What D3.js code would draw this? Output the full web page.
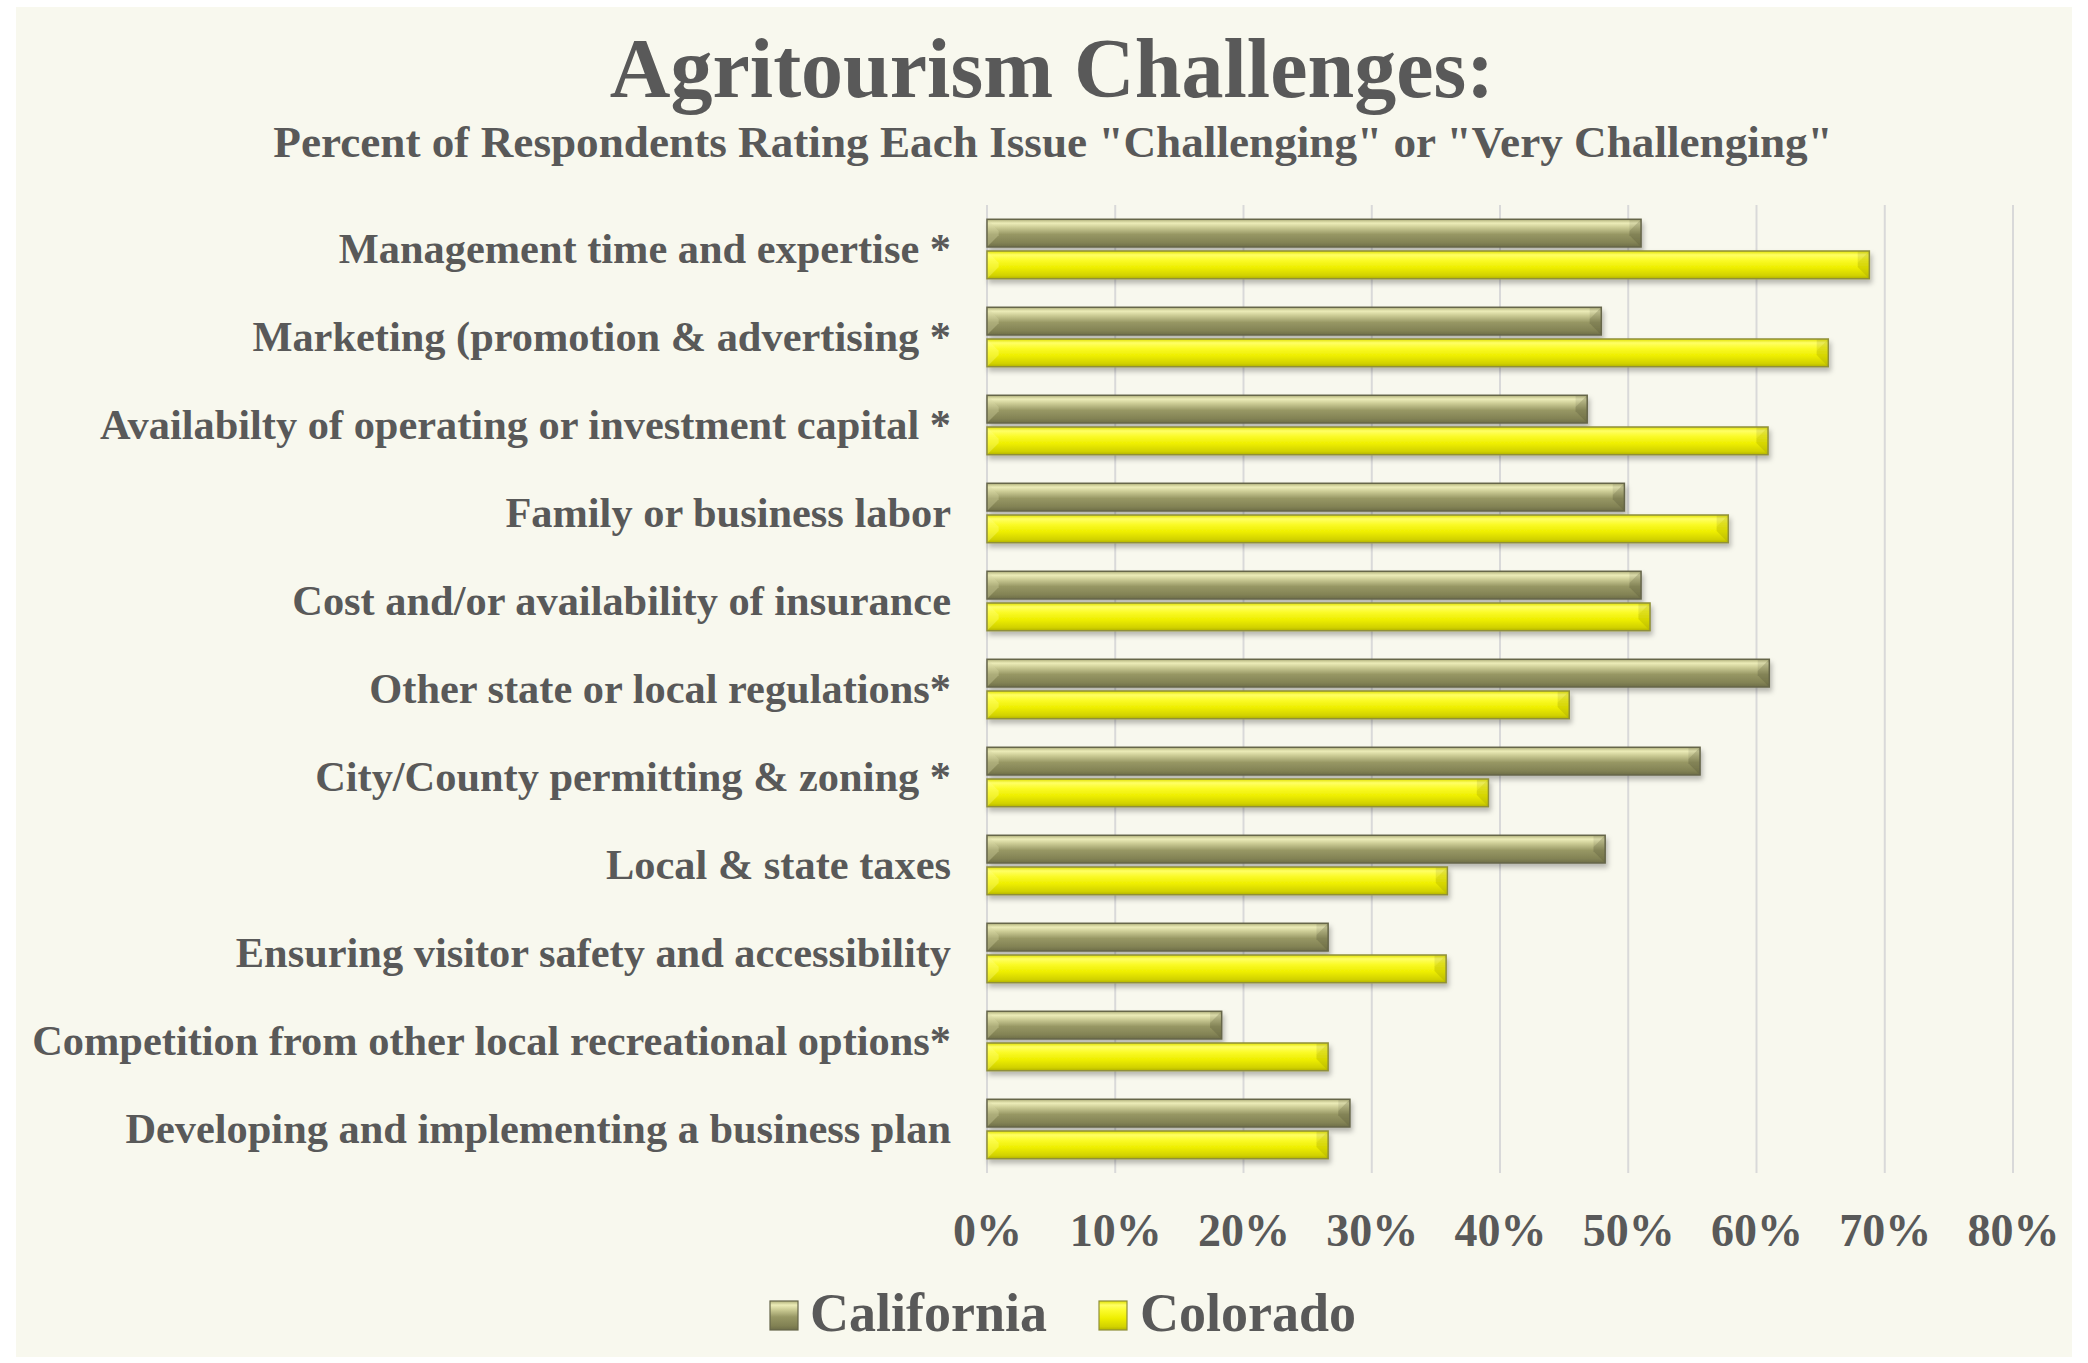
<!DOCTYPE html>
<html>
<head>
<meta charset="utf-8">
<script src="https://cdn.jsdelivr.net/npm/d3@7/dist/d3.min.js"></script>
<style>
  html, body { margin: 0; padding: 0; background: #ffffff; }
  svg { display: block; }
  text { font-family: "Liberation Serif", "Times New Roman", serif; font-weight: bold; fill: #595959; }
</style>
</head>
<body>
<script>
const categories = [
  "Management time and expertise *",
  "Marketing (promotion & advertising *",
  "Availabilty of operating or investment capital *",
  "Family or business labor",
  "Cost and/or availability of insurance",
  "Other state or local regulations*",
  "City/County permitting & zoning *",
  "Local & state taxes",
  "Ensuring visitor safety and accessibility",
  "Competition from other local recreational options*",
  "Developing and implementing a business plan"
];
const seriesNames = ["California", "Colorado"];
const california = [0.510, 0.479, 0.468, 0.497, 0.510, 0.610, 0.556, 0.482, 0.266, 0.183, 0.283];
const colorado   = [0.688, 0.656, 0.609, 0.578, 0.517, 0.454, 0.391, 0.359, 0.358, 0.266, 0.266];
const tickValues = [0, 0.1, 0.2, 0.3, 0.4, 0.5, 0.6, 0.7, 0.8];
const titleText = "Agritourism Challenges:";
const subtitleText = "Percent of Respondents Rating Each Issue \"Challenging\" or \"Very Challenging\"";

const W = 2088, H = 1363;
const svg = d3.select("body").append("svg").attr("width", W).attr("height", H);

const defs = svg.append("defs");
function vgrad(id, stops) {
  const g = defs.append("linearGradient").attr("id", id).attr("x1", 0).attr("y1", 0).attr("x2", 0).attr("y2", 1);
  stops.forEach(s => g.append("stop").attr("offset", s[0]).attr("stop-color", s[1]));
}
vgrad("gCA", [[0, "#b0b07a"], [0.14, "#ececb8"], [0.3, "#cbcb94"], [0.55, "#979764"], [0.85, "#828254"], [1, "#6e6e48"]]);
vgrad("gCO", [[0, "#e0e000"], [0.14, "#ffff66"], [0.32, "#fbfb2c"], [0.6, "#eeee00"], [0.88, "#d2d200"], [1, "#b4b400"]]);
const f = defs.append("filter").attr("id", "shadow").attr("x", "-5%").attr("y", "-30%").attr("width", "110%").attr("height", "180%");
f.append("feDropShadow").attr("dx", 2).attr("dy", 4).attr("stdDeviation", 2.5).attr("flood-color", "#000").attr("flood-opacity", 0.26);

const fills = ["url(#gCA)", "url(#gCO)"];
const strokes = ["#66664a", "#8f8f3a"];
const capDark = ["#5e5e3c", "#a8a800"];
const capLight = ["#d8d8a4", "#ffff80"];

// background panel
svg.append("rect").attr("x", 16).attr("y", 7).attr("width", 2056).attr("height", 1350).attr("fill", "#f8f8ee");

// titles
svg.append("text").attr("x", 1052).attr("y", 97).attr("text-anchor", "middle").attr("font-size", 84).text(titleText);
svg.append("text").attr("x", 1053).attr("y", 157).attr("text-anchor", "middle").attr("font-size", 45.2).text(subtitleText);

// scales
const x = d3.scaleLinear().domain([0, 0.8]).range([987, 2013]);
const y = d3.scaleBand().domain(categories).range([205, 1173]).paddingInner(0).paddingOuter(0);
const y1 = d3.scaleBand().domain(seriesNames).range([0, y.bandwidth()]).paddingInner(0.126).paddingOuter(0.45);

// gridlines
svg.append("g").selectAll("line").data(tickValues).join("line")
  .attr("x1", d => x(d)).attr("x2", d => x(d))
  .attr("y1", 205).attr("y2", 1173)
  .attr("stroke", "#d9d9d9").attr("stroke-width", 2);

// x axis tick labels
const xAxis = d3.axisBottom(x).tickValues(tickValues).tickFormat(d3.format(".0%")).tickSize(0).tickPadding(0);
const gx = svg.append("g").attr("transform", "translate(0,1213)").call(xAxis);
gx.select(".domain").remove();
gx.selectAll("text").attr("font-size", 46).attr("dy", "0.71em").attr("fill", "#595959")
  .style("font-family", "'Liberation Serif', serif").style("font-weight", "bold");

// y axis labels
const yAxis = d3.axisLeft(y).tickSize(0).tickPadding(0);
const gy = svg.append("g").attr("transform", "translate(951,0)").call(yAxis);
gy.select(".domain").remove();
gy.selectAll("text").attr("font-size", 42.4).attr("fill", "#595959")
  .style("font-family", "'Liberation Serif', serif").style("font-weight", "bold");

// bars
const rows = categories.map((c, i) => ({ cat: c, vals: [california[i], colorado[i]] }));
const groups = svg.append("g").selectAll("g").data(rows).join("g")
  .attr("transform", d => `translate(0,${y(d.cat)})`);

groups.each(function(row) {
  const g = d3.select(this);
  row.vals.forEach((v, si) => {
    const s = seriesNames[si];
    const x0 = x(0), x1 = x(v), yy = y1(s), h = y1.bandwidth();
    const bar = g.append("g").attr("filter", "url(#shadow)");
    bar.append("rect").attr("x", x0).attr("y", yy).attr("width", x1 - x0).attr("height", h)
      .attr("fill", fills[si]);
    const c = Math.min(h * 0.42, 12);
    bar.append("polygon")
      .attr("points", `${x1 - c},${yy + c} ${x1},${yy} ${x1},${yy + h} ${x1 - c},${yy + h - c}`)
      .attr("fill", capDark[si]).attr("opacity", 0.35);
    bar.append("polygon")
      .attr("points", `${x1 - c},${yy + c} ${x1},${yy} ${x1 - c},${yy}`)
      .attr("fill", "#000").attr("opacity", 0.08);
    bar.append("polygon")
      .attr("points", `${x0},${yy} ${x0 + c},${yy + c} ${x0 + c},${yy + h - c} ${x0},${yy + h}`)
      .attr("fill", capLight[si]).attr("opacity", 0.35);
    bar.append("rect").attr("x", x0).attr("y", yy).attr("width", x1 - x0).attr("height", h)
      .attr("fill", "none").attr("stroke", strokes[si]).attr("stroke-width", 1.5);
  });
});

// legend
const legendItems = [
  { name: seriesNames[0], sx: 770, tx: 810 },
  { name: seriesNames[1], sx: 1099, tx: 1140 }
];
const lg = svg.append("g");
legendItems.forEach((it, i) => {
  lg.append("rect").attr("x", it.sx).attr("y", 1301).attr("width", 28).attr("height", 29)
    .attr("fill", fills[i]).attr("stroke", strokes[i]).attr("stroke-width", 1.2);
  lg.append("text").attr("x", it.tx).attr("y", 1331).attr("font-size", 54).text(it.name);
});
</script>
</body>
</html>
